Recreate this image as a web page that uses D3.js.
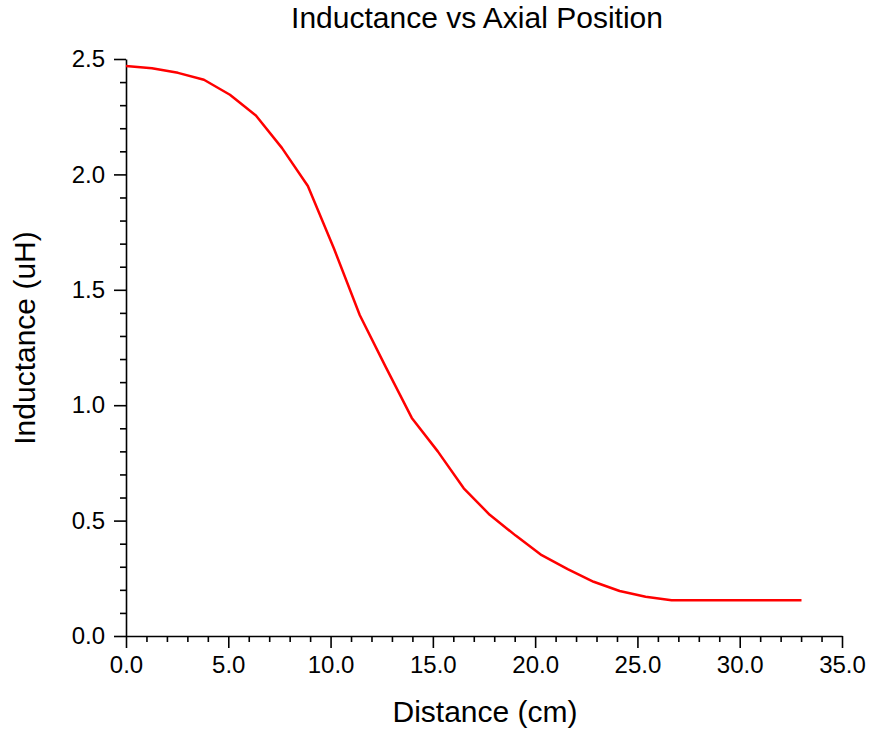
<!DOCTYPE html>
<html>
<head>
<meta charset="utf-8">
<script src="https://cdn.jsdelivr.net/npm/d3@7"></script>
<style>
  body { margin: 0; background: #fff; }
  svg { display: block; font-family: "Liberation Sans", Arial, sans-serif; }
</style>
</head>
<body>
<svg id="chart" width="870" height="729"></svg>
<script>
// Data (distance in cm, inductance in uH)
const distance = [0, 1.27, 2.54, 3.81, 5.08, 6.35, 7.62, 8.89, 10.16, 11.43, 12.7, 13.97,
  15.24, 16.51, 17.78, 19.05, 20.32, 21.59, 22.86, 24.13, 25.4, 26.67, 27.94, 29.21,
  30.48, 31.75, 33.02];
const inductance = [2.47, 2.46, 2.44, 2.41, 2.345, 2.255, 2.115, 1.95, 1.68, 1.39, 1.165, 0.945,
  0.80, 0.64, 0.525, 0.435, 0.35, 0.29, 0.235, 0.195, 0.17, 0.155, 0.155, 0.155,
  0.155, 0.155, 0.155];
const xTicks = [0, 5, 10, 15, 20, 25, 30, 35];
const yTicks = [0, 0.5, 1.0, 1.5, 2.0, 2.5];
const title = "Inductance vs Axial Position";
const xLabel = "Distance (cm)";
const yLabel = "Inductance (uH)";

const svg = d3.select("#chart");
const mLeft = 126, mRight = 842, mTop = 59, mBottom = 636;

const x = d3.scaleLinear().domain([0, 35]).range([mLeft, mRight]);
const y = d3.scaleLinear().domain([0, 2.5]).range([mBottom, mTop]);

const fmt = d3.format(".1f");

// Minor ticks
const xMinor = d3.range(0, 35.001, 1).filter(v => Math.abs(v % 5) > 1e-6);
const yMinor = d3.range(0, 2.5001, 0.1).filter(v => Math.abs((Math.round(v * 10)) % 5) > 0);

// X axis
const gx = svg.append("g").attr("transform", `translate(0,${mBottom})`);
gx.call(d3.axisBottom(x).tickValues(xTicks).tickFormat(fmt).tickSize(12).tickSizeOuter(0).tickPadding(8));
gx.append("g").call(d3.axisBottom(x).tickValues(xMinor).tickFormat("").tickSize(6).tickSizeOuter(0))
  .select(".domain").remove();

// Y axis
const gy = svg.append("g").attr("transform", `translate(${mLeft},0)`);
gy.call(d3.axisLeft(y).tickValues(yTicks).tickFormat(fmt).tickSize(12).tickSizeOuter(0).tickPadding(9));
gy.append("g").call(d3.axisLeft(y).tickValues(yMinor).tickFormat("").tickSize(6).tickSizeOuter(0))
  .select(".domain").remove();

svg.selectAll(".domain, .tick line").attr("stroke", "#000").attr("stroke-width", 1.6);
svg.selectAll(".tick text").attr("font-size", 24).attr("fill", "#000")
  .attr("font-family", "'Liberation Sans', Arial, sans-serif");

// Line
const line = d3.line().x((d, i) => x(distance[i])).y(d => y(d));
svg.append("path")
  .datum(inductance)
  .attr("d", line)
  .attr("fill", "none")
  .attr("stroke", "#ff0000")
  .attr("stroke-width", 2.5)
  .attr("stroke-linejoin", "round");

// Title and labels
svg.append("text").attr("x", 477).attr("y", 28).attr("text-anchor", "middle")
  .attr("font-size", 30).attr("fill", "#000").text(title);
svg.append("text").attr("x", 485).attr("y", 722).attr("text-anchor", "middle")
  .attr("font-size", 30).attr("fill", "#000").text(xLabel);
svg.append("text").attr("transform", "translate(35,338) rotate(-90)").attr("text-anchor", "middle")
  .attr("font-size", 30).attr("fill", "#000").text(yLabel);
</script>
</body>
</html>
